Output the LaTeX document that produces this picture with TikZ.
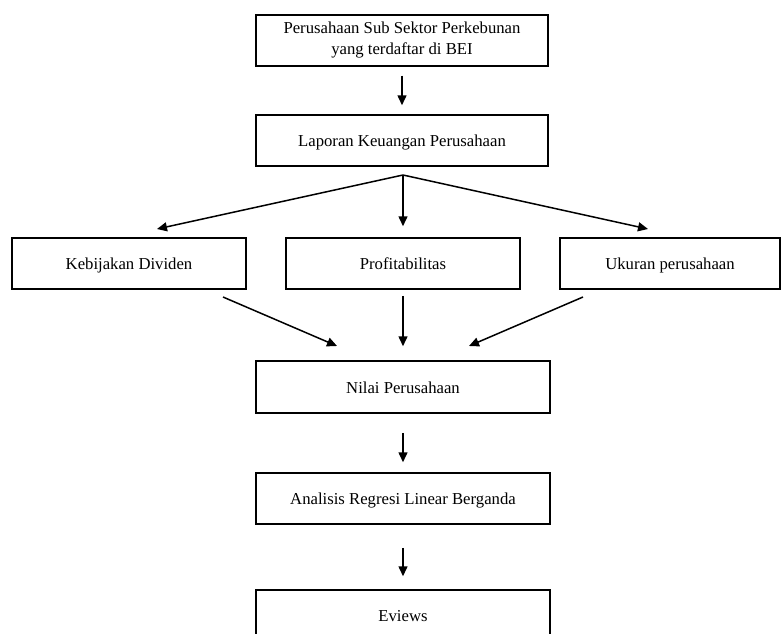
\documentclass[tikz,border=0pt]{standalone}
\usepackage{fontspec}
\setmainfont{Liberation Serif}
\usetikzlibrary{arrows.meta}
\begin{document}
\begin{tikzpicture}[x=1pt,y=-1pt,
  box/.style={draw=black, line width=1.5pt, fill=white, align=center, inner sep=0pt,
    minimum height=51pt, font=\fontsize{16.7}{21}\selectfont},
  one/.style={text height=12pt, text depth=0pt},
  arr/.style={line width=1.5pt, -{Triangle[length=10pt,width=9pt]}}]
\clip (0,0) rectangle (782,634);
\fill[white] (0,0) rectangle (782,634);
\node[box, minimum width=292pt] (a) at (402,40.5) {Perusahaan Sub Sektor Perkebunan\\yang terdaftar di BEI};
\node[box, one, minimum width=292pt] (b) at (402,140.5) {Laporan Keuangan Perusahaan};
\node[box, one, minimum width=234pt] (c) at (129,263.5) {Kebijakan Dividen};
\node[box, one, minimum width=234pt] (d) at (403,263.5) {Profitabilitas};
\node[box, one, minimum width=220pt] (e) at (670,263.5) {Ukuran perusahaan};
\node[box, one, minimum width=294pt, minimum height=52pt] (f) at (403,387) {Nilai Perusahaan};
\node[box, one, minimum width=294pt] (g) at (403,498.5) {Analisis Regresi Linear Berganda};
\node[box, one, minimum width=294pt] (h) at (403,615.5) {Eviews};
% free ends
\coordinate (fan) at (403,175);
\coordinate (tc) at (157,229);
\coordinate (te) at (648,229);
\coordinate (sc) at (223,297);
\coordinate (se) at (583,297);
\coordinate (tf1) at (337,346);
\coordinate (tf3) at (469,346);
\draw[arr, shorten <=9pt, shorten >=9pt] (a.south) -- (b.north);
\draw[arr] (fan) -- (tc);
\draw[arr, shorten >=11pt] (fan) -- (d.north);
\draw[arr] (fan) -- (te);
\draw[arr] (sc) -- (tf1);
\draw[arr, shorten <=6pt, shorten >=14pt] (d.south) -- (f.north);
\draw[arr] (se) -- (tf3);
\draw[arr, shorten <=19pt, shorten >=10pt] (f.south) -- (g.north);
\draw[arr, shorten <=23pt, shorten >=13pt] (g.south) -- (h.north);
\end{tikzpicture}
\end{document}
